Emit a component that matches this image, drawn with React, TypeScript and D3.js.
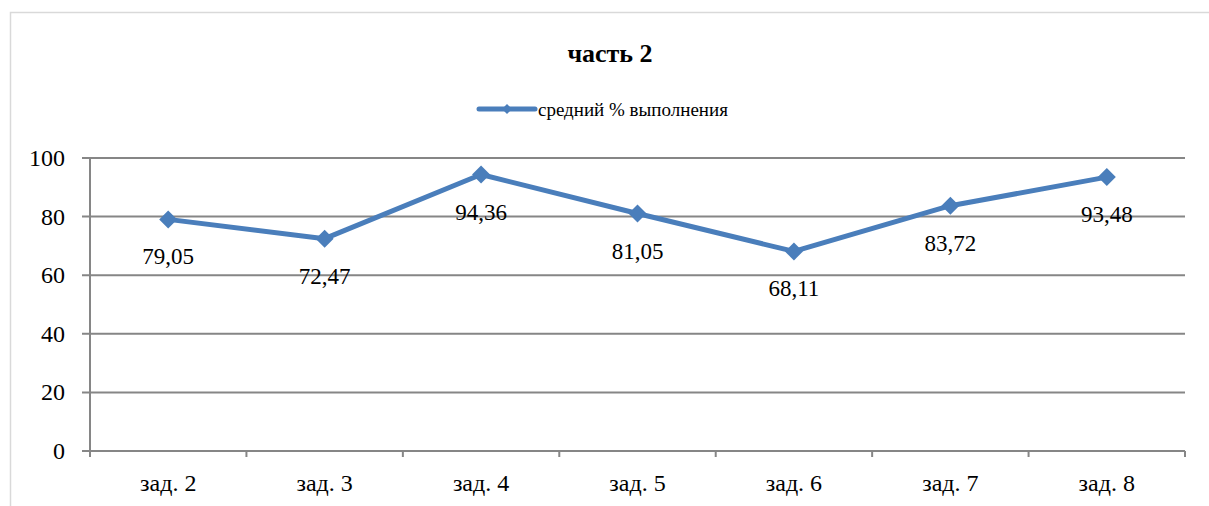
import * as d3 from "d3";

const categories = ["зад. 2", "зад. 3", "зад. 4", "зад. 5", "зад. 6", "зад. 7", "зад. 8"];
const values = [79.05, 72.47, 94.36, 81.05, 68.11, 83.72, 93.48];
const valueLabels = ["79,05", "72,47", "94,36", "81,05", "68,11", "83,72", "93,48"];
const yTicks = [0, 20, 40, 60, 80, 100];
const seriesName = "средний % выполнения";
const title = "часть 2";

const W = 1209;
const H = 506;
const plot = { left: 90, right: 1185, top: 158, bottom: 451 };
const blue = "#4A7EBB";
const grid = "#868686";
const font = "'Liberation Serif', 'DejaVu Serif', serif";
const ts = { fontFamily: font };

const diamond = (x: number, y: number, r: number) =>
  `M${x},${y - r}L${x + r},${y}L${x},${y + r}L${x - r},${y}Z`;

const App = () => {
  const x = d3.scaleBand<string>().domain(categories).range([plot.left, plot.right]).padding(0);
  const y = d3.scaleLinear().domain([0, 100]).range([plot.bottom, plot.top]);
  const cx = (c: string) => (x(c) ?? 0) + x.bandwidth() / 2;

  const line = d3
    .line<number>()
    .x((_, i) => cx(categories[i]))
    .y((d) => y(d));

  return (
    <svg width={W} height={H} style={{ position: "absolute", left: 0, top: 0, background: "#fff" }}>
      {/* рамка диаграммы */}
      <rect x={10.5} y={12.5} width={W + 20} height={H + 20} fill="#fff" stroke="#d9d9d9" strokeWidth={1.5} />

      <text x={610} y={62} textAnchor="middle" fontSize={26} fontWeight="bold" style={ts}>
        {title}
      </text>

      {/* легенда */}
      <line x1={479} x2={535} y1={109} y2={109} stroke={blue} strokeWidth={5} strokeLinecap="round" />
      <path d={diamond(507, 109, 5)} fill={blue} />
      <text x={538} y={116} fontSize={19} style={ts}>
        {seriesName}
      </text>

      {/* сетка */}
      {yTicks.map((t) => (
        <g key={t}>
          <line x1={plot.left - 8} x2={plot.right} y1={y(t)} y2={y(t)} stroke={grid} strokeWidth={2} />
          <text x={65} y={y(t) + 8} textAnchor="end" fontSize={24} style={ts}>
            {t}
          </text>
        </g>
      ))}
      <line x1={plot.left} x2={plot.left} y1={plot.top} y2={plot.bottom + 6} stroke={grid} strokeWidth={2} />

      {/* ось X */}
      {categories.map((c) => (
        <g key={c}>
          <line x1={x(c)} x2={x(c)} y1={plot.bottom} y2={plot.bottom + 6} stroke={grid} strokeWidth={2} />
          <text x={cx(c)} y={plot.bottom + 40} textAnchor="middle" fontSize={24} style={ts}>
            {c}
          </text>
        </g>
      ))}
      <line x1={plot.right} x2={plot.right} y1={plot.bottom} y2={plot.bottom + 6} stroke={grid} strokeWidth={2} />

      {/* ряд */}
      <path d={line(values) ?? ""} fill="none" stroke={blue} strokeWidth={5} strokeLinejoin="round" />
      {values.map((v, i) => (
        <path key={i} d={diamond(cx(categories[i]), y(v), 9)} fill={blue} />
      ))}
      {values.map((v, i) => (
        <text key={i} x={cx(categories[i])} y={y(v) + 45} textAnchor="middle" fontSize={23} style={ts}>
          {valueLabels[i]}
        </text>
      ))}
    </svg>
  );
};

export default App;
